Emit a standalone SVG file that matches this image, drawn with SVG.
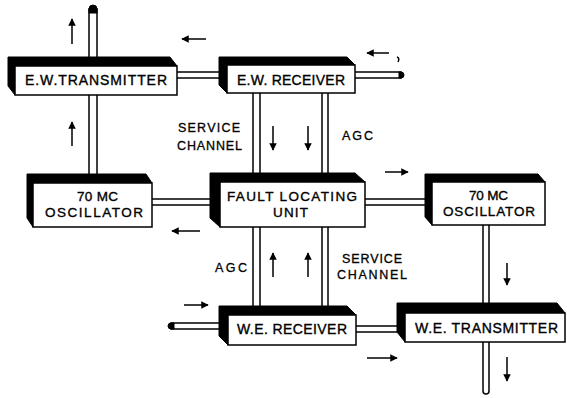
<svg xmlns="http://www.w3.org/2000/svg" width="567" height="398" viewBox="0 0 567 398">
<style>
.pipe{fill:#fff;stroke:#000;stroke-width:1.5}
.cap{fill:#000;stroke:#000;stroke-width:1}
.side{fill:#000;stroke:#000;stroke-width:1;stroke-linejoin:round}
.face{fill:#fff;stroke:#000;stroke-width:1.5}
.t{font-family:"Liberation Sans",Arial,sans-serif;font-size:14px;fill:#000;stroke:#000;stroke-width:0.35}
.t2{font-family:"Liberation Sans",Arial,sans-serif;font-size:13.5px;fill:#000;stroke:#000;stroke-width:0.35}
.l{font-family:"Liberation Sans",Arial,sans-serif;font-size:12.5px;fill:#000;stroke:#000;stroke-width:0.3}
.arr{stroke:#000;stroke-width:1.5;fill:none;marker-end:url(#ah)}
</style>
<defs>
<marker id="ah" viewBox="0 0 10 10" refX="9" refY="5" markerWidth="5.5" markerHeight="5" orient="auto" markerUnits="strokeWidth">
<path d="M0,0 L10,5 L0,10 z" fill="#000"/>
</marker>
</defs>
<rect width="567" height="398" fill="#fff"/>
<g id="connectors">
<rect class="pipe" x="89" y="9" width="8" height="170"/>
<path class="cap" d="M89,13 L89,9 A4,4 0 0 1 97,9 L97,13 Z"/>
<rect class="pipe" x="170" y="72" width="231" height="6"/>
<path class="cap" d="M399,72 L401,72 A3,3 0 0 1 401,78 L399,78 Z"/>
<rect class="pipe" x="253" y="88" width="7" height="224"/>
<rect class="pipe" x="322" y="88" width="6" height="224"/>
<rect class="pipe" x="148" y="199" width="282" height="6"/>
<path class="pipe" d="M483,220 L483,391 A3,3 0 0 0 489,391 L489,220"/>
<rect class="pipe" x="171" y="323" width="52" height="6"/>
<path class="cap" d="M174,323 L171,323 A3,3 0 0 0 171,329 L174,329 Z"/>
<rect class="pipe" x="352" y="326" width="50" height="6"/>
<line class="arr" x1="72" y1="44" x2="72" y2="19"/>
<line class="arr" x1="72" y1="146" x2="72" y2="122"/>
<line class="arr" x1="206" y1="39" x2="182" y2="39"/>
<line class="arr" x1="389" y1="53" x2="367" y2="53"/>
<path d="M397,57 q3,1 1,5" stroke="#000" stroke-width="1.5" fill="none"/>
<line class="arr" x1="273" y1="126" x2="273" y2="150"/>
<line class="arr" x1="308" y1="126" x2="308" y2="150"/>
<line class="arr" x1="385" y1="172" x2="408" y2="172"/>
<line class="arr" x1="200" y1="231" x2="172" y2="231"/>
<line class="arr" x1="273" y1="277" x2="273" y2="253"/>
<line class="arr" x1="308" y1="277" x2="308" y2="253"/>
<line class="arr" x1="507" y1="263" x2="507" y2="285"/>
<line class="arr" x1="184" y1="305" x2="208" y2="305"/>
<line class="arr" x1="367" y1="358" x2="397" y2="358"/>
<line class="arr" x1="507" y1="357" x2="507" y2="381"/>
</g>
<g id="ew-transmitter">
<polygon class="side" points="8,57 170,57 177,66 15,66 15,95 8,86"/>
<rect class="face" x="15" y="66" width="162" height="29"/>
<text class="t" x="25" y="85" textLength="142" lengthAdjust="spacing">E.W.TRANSMITTER</text>
</g>
<g id="ew-receiver">
<polygon class="side" points="219,57 347,57 355,65 227,65 227,93 219,85"/>
<rect class="face" x="227" y="65" width="128" height="28"/>
<text class="t" x="237" y="85" textLength="108" lengthAdjust="spacing">E.W. RECEIVER</text>
</g>
<g id="osc-left">
<polygon class="side" points="27,174 146,174 152,183 33,183 33,227 27,218"/>
<rect class="face" x="33" y="183" width="119" height="44"/>
<text class="t2" x="77" y="201" textLength="41" lengthAdjust="spacing">70 MC</text>
<text class="t2" x="45" y="217" textLength="98" lengthAdjust="spacing">OSCILLATOR</text>
</g>
<g id="fault-locating-unit">
<polygon class="side" points="210,173 355,173 365,182 220,182 220,227 210,218"/>
<rect class="face" x="220" y="182" width="145" height="45"/>
<text class="t2" x="227" y="201" textLength="130" lengthAdjust="spacing">FAULT LOCATING</text>
<text class="t2" x="273" y="217" textLength="35" lengthAdjust="spacing">UNIT</text>
</g>
<g id="osc-right">
<polygon class="side" points="425,174 538,174 545,182 432,182 432,225 425,217"/>
<rect class="face" x="432" y="182" width="113" height="43"/>
<text class="t2" x="469" y="200" textLength="39" lengthAdjust="spacing">70 MC</text>
<text class="t2" x="443" y="216" textLength="92" lengthAdjust="spacing">OSCILLATOR</text>
</g>
<g id="we-receiver">
<polygon class="side" points="219,306 347,306 356,315 228,315 228,345 219,336"/>
<rect class="face" x="228" y="315" width="128" height="30"/>
<text class="t" x="237" y="334" textLength="110" lengthAdjust="spacing">W.E. RECEIVER</text>
</g>
<g id="we-transmitter">
<polygon class="side" points="397,303 557,303 565,313 405,313 405,342 397,332"/>
<rect class="face" x="405" y="313" width="160" height="29"/>
<text class="t" x="415" y="333" textLength="143" lengthAdjust="spacing">W.E. TRANSMITTER</text>
</g>
<g id="labels">
<text class="l" x="178" y="132" textLength="62" lengthAdjust="spacing">SERVICE</text>
<text class="l" x="177" y="150" textLength="65" lengthAdjust="spacing">CHANNEL</text>
<text class="l" x="342" y="140" textLength="31" lengthAdjust="spacing">AGC</text>
<text class="l" x="215" y="272" textLength="32" lengthAdjust="spacing">AGC</text>
<text class="l" x="342" y="263" textLength="60" lengthAdjust="spacing">SERVICE</text>
<text class="l" x="337" y="279" textLength="70" lengthAdjust="spacing">CHANNEL</text>
</g>
</svg>
